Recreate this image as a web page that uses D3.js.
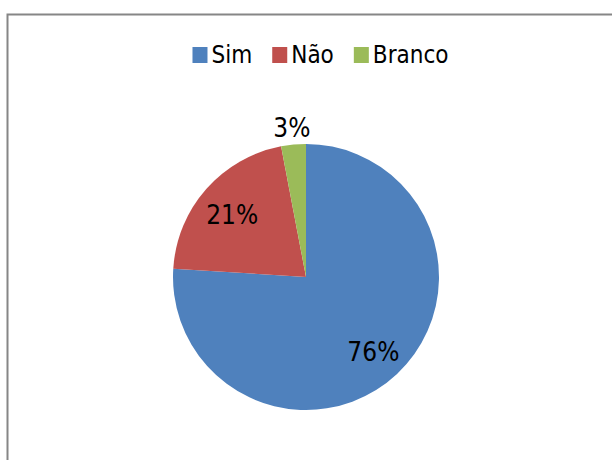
<!DOCTYPE html>
<html>
<head>
<meta charset="utf-8">
<script src="https://cdn.jsdelivr.net/npm/d3@7"></script>
<style>
  body { margin: 0; background: #fff; }
  svg text { font-family: "DejaVu Sans Condensed", "DejaVu Sans", sans-serif; font-stretch: condensed; fill: #000; }
</style>
</head>
<body>
<svg id="chart"></svg>
<script>
// chart data
const categories = ['Sim', 'Não', 'Branco'];
const values = [76, 21, 3];
const labels = ['76%', '21%', '3%'];
const colors = ['#4F81BD', '#C0504D', '#9BBB59'];

const W = 612, H = 460;
const cx = 306, cy = 277, R = 133;

const svg = d3.select('#chart')
    .attr('width', W)
    .attr('height', H);

svg.append('rect')
    .attr('width', W).attr('height', H)
    .attr('fill', '#fff');

// chart frame (runs off the right and bottom edges)
svg.append('rect')
    .attr('x', 7.5).attr('y', 14.5)
    .attr('width', W + 20).attr('height', H + 20)
    .attr('fill', 'none')
    .attr('stroke', '#868686')
    .attr('stroke-width', 2);

const pie = d3.pie().sort(null).value(d => d);
const arcs = pie(values);

const arc = d3.arc().innerRadius(0).outerRadius(R);
const labelArc = d3.arc().innerRadius(R * 0.74).outerRadius(R * 0.74);
const outerArc = d3.arc().innerRadius(R * 1.13).outerRadius(R * 1.13);

const g = svg.append('g').attr('transform', `translate(${cx},${cy})`);

g.selectAll('path.slice')
    .data(arcs)
    .enter()
    .append('path')
    .attr('class', 'slice')
    .attr('d', arc)
    .attr('fill', (d, i) => colors[i]);

g.selectAll('text.lbl')
    .data(arcs)
    .enter()
    .append('text')
    .attr('class', 'lbl')
    .attr('transform', d => {
        const small = (d.endAngle - d.startAngle) < 0.3;
        const c = (small ? outerArc : labelArc).centroid(d);
        return `translate(${c[0]},${c[1] + (small ? 0 : 3)})`;
    })
    .attr('text-anchor', 'middle')
    .attr('dy', '0.36em')
    .attr('font-size', 26)
    .text((d, i) => labels[i]);

// legend
const legend = svg.append('g');
let lx = 0;
categories.forEach((c, i) => {
    const item = legend.append('g').attr('transform', `translate(${lx},0)`);
    item.append('rect')
        .attr('x', 0).attr('y', -16)
        .attr('width', 15).attr('height', 16)
        .attr('fill', colors[i]);
    const t = item.append('text')
        .attr('x', 19).attr('y', 0)
        .attr('font-size', 24)
        .text(c);
    lx += 19 + t.node().getComputedTextLength() + 20;
});
const legendW = lx - 20;
legend.attr('transform', `translate(${320.5 - legendW / 2},63)`);
</script>
</body>
</html>
